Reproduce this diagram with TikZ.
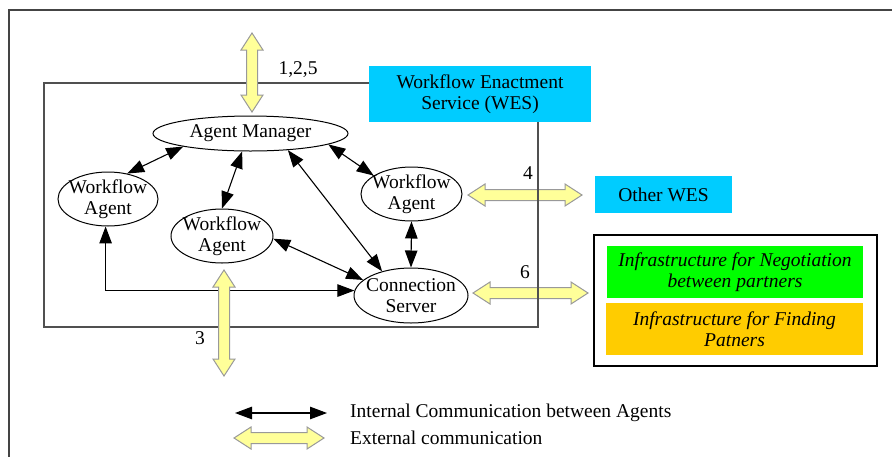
\documentclass[tikz,border=0pt]{standalone}
\usepackage{fontspec}
\setmainfont{Liberation Serif}
\usetikzlibrary{arrows.meta,shapes.geometric}
\definecolor{wescyan}{HTML}{00CCFF}
\definecolor{neggreen}{HTML}{00FF00}
\definecolor{findorange}{HTML}{FFCC00}
\definecolor{fatfill}{HTML}{FFFF99}
\definecolor{fatedge}{HTML}{999999}
\definecolor{framegray}{HTML}{505050}
\definecolor{outergray}{HTML}{444444}
\begin{document}
\begin{tikzpicture}[x=1pt,y=-1pt,
  font=\fontsize{19.5}{20.5}\selectfont,
  agent/.style={ellipse, draw, line width=1pt, fill=white, align=center,
    inner xsep=-10pt, inner ysep=-5pt},
  colbox/.style={rectangle, inner sep=0pt, align=center},
  int/.style={{Triangle[length=17pt,width=12.5pt]}-{Triangle[length=17pt,width=12.5pt]},
    line width=1.1pt},
  frameline/.style={draw=framegray, line width=1.2pt},
  fatline/.style={draw=fatedge, fill=fatfill, line width=1pt, line join=miter},
  pics/fatarrow/.style={code={
    \path[fatline] (0,0) -- (17,11) -- (17,5.5) -- ({#1-17},5.5) -- ({#1-17},11)
      -- (#1,0) -- ({#1-17},-11) -- ({#1-17},-5.5) -- (17,-5.5) -- (17,-11) -- cycle;
  }}]
\useasboundingbox (0,0) rectangle (892,456);

% outer frame (runs off the right and bottom)
\draw[outergray, line width=1.6pt] (9,460) -- (9,10) -- (900,10);

% boxes on the right
\node[colbox, fill=wescyan, minimum width=222, minimum height=56] (wes) at (480,94)
  {Workflow Enactment\\Service (WES)};
\node[colbox, fill=wescyan, minimum width=137, minimum height=37] (other) at (663.5,194.5)
  {Other WES};
\node[rectangle, draw, line width=1.4pt, minimum width=283, minimum height=131] (infra)
  at (735.5,300.5) {};
\node[colbox, fill=neggreen, minimum width=256, minimum height=52, font=\fontsize{19.5}{20.5}\selectfont\itshape]
  (neg) at (735,272) {Infrastructure for Negotiation\\between partners};
\node[colbox, fill=findorange, minimum width=257, minimum height=52, font=\fontsize{19.5}{20.5}\selectfont\itshape]
  (find) at (734.5,329) {Infrastructure for Finding\\Patners};

% agents
\node[agent, minimum width=195, minimum height=35] (am) at (250.5,133.5) {Agent Manager};
\node[agent, minimum width=100, minimum height=54] (wl) at (108,199) {Workflow\\Agent};
\node[agent, minimum width=102, minimum height=54] (wm) at (222,236) {Workflow\\Agent};
\node[agent, minimum width=101, minimum height=54] (wr) at (411.5,194) {Workflow\\Agent};
\node[agent, minimum width=114, minimum height=55] (cs) at (411,295.5) {Connection\\Server};

% internal communication
\draw[int] (am.191) -- (wl.53);
\draw[int] (am.245) -- (wm.north);
\draw[int] (am.-8) -- (wr.154);
\draw[int] (am.-24) -- (cs.140);
\draw[int] (wm.-3) -- (cs.162);
\draw[int] (wl.265) |- (cs.175);
\draw[int] (wr.south) -- (cs.north);

% external communication to the right, under the WES boundary
\coordinate (ext4) at (468,195);
\coordinate (ext6) at (473,293);
\pic at (ext4) {fatarrow=114};
\pic at (ext6) {fatarrow=115};

% WES boundary
\draw[frameline] (wes.west |- 0,83) -- (44,83) -- (44,327) -- (538,327) -- (538,0 |- wes.south);

% external communication through the top and bottom
\coordinate (ext125) at (252,33);
\coordinate (ext3) at (224,270);
\pic[rotate=-90] at (ext125) {fatarrow=79};
\pic[rotate=-90] at (ext3) {fatarrow=106};

% labels
\node (l125) at (298,70) {1,2,5};
\node (l4) at (528,173) {4};
\node (l6) at (525,272) {6};
\node (l3) at (200,338) {3};

% legend
\coordinate (lega) at (235,413);
\coordinate (legb) at (327,413);
\draw[int] (lega) -- (legb);
\node[anchor=west, inner sep=0pt] (legint) at (350,413) {Internal Communication between Agents};
\coordinate (legc) at (234,438);
\pic at (legc) {fatarrow=90};
\node[anchor=west, inner sep=0pt] (legext) at (350,438) {External communication};
\end{tikzpicture}
\end{document}
